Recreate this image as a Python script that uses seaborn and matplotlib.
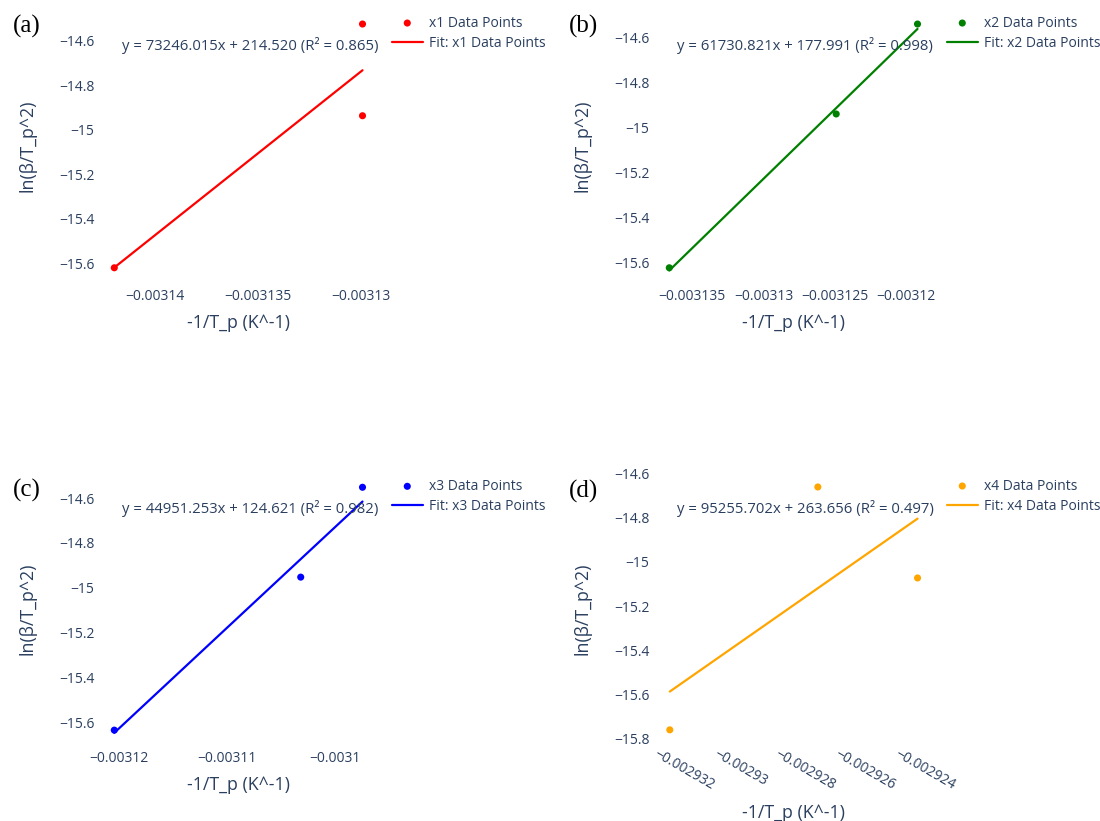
import numpy as np
import pandas as pd
import matplotlib
matplotlib.use("Agg")
import matplotlib.pyplot as plt
import seaborn as sns
from matplotlib.ticker import FixedLocator, FixedFormatter

# Kissinger plots: ln(beta/Tp^2) against -1/Tp for four series, each with its linear fit
series_names = ["x1", "x2", "x3", "x4"]
panel_tags = ["(a)", "(b)", "(c)", "(d)"]

x1_inv_tp = [-0.0031420, -0.0031299, -0.0031299]
x1_ln = [-15.620, -14.525, -14.937]
x2_inv_tp = [-0.0031366, -0.0031249, -0.0031192]
x2_ln = [-15.622, -14.938, -14.538]
x3_inv_tp = [-0.0031204, -0.0031032, -0.0030975]
x3_ln = [-15.633, -14.952, -14.552]
x4_inv_tp = [-0.0029315, -0.0029266, -0.0029233]
x4_ln = [-15.759, -14.662, -15.073]

fit_slope = [73246.015, 61730.821, 44951.253, 95255.702]
fit_intercept = [214.520, 177.991, 124.621, 263.656]
fit_r2 = [0.865, 0.998, 0.982, 0.497]

x_ticks = [
    [-0.00314, -0.003135, -0.00313],
    [-0.003135, -0.00313, -0.003125, -0.00312],
    [-0.00312, -0.00311, -0.0031],
    [-0.002932, -0.00293, -0.002928, -0.002926, -0.002924],
]
x_tick_labels = [
    ["\u22120.00314", "\u22120.003135", "\u22120.00313"],
    ["\u22120.003135", "\u22120.00313", "\u22120.003125", "\u22120.00312"],
    ["\u22120.00312", "\u22120.00311", "\u22120.0031"],
    ["\u22120.002932", "\u22120.00293", "\u22120.002928", "\u22120.002926", "\u22120.002924"],
]
y_ticks_short = [-14.6, -14.8, -15.0, -15.2, -15.4, -15.6]
y_labels_short = ["\u221214.6", "\u221214.8", "\u221215", "\u221215.2", "\u221215.4", "\u221215.6"]
y_ticks = [y_ticks_short] * 3 + [y_ticks_short + [-15.8]]
y_tick_labels = [y_labels_short] * 3 + [y_labels_short + ["\u221215.8"]]

x_title = "-1/T_p (K^-1)"
y_title = "ln(\u03b2/T_p^2)"

series_x = [x1_inv_tp, x2_inv_tp, x3_inv_tp, x4_inv_tp]
series_y = [x1_ln, x2_ln, x3_ln, x4_ln]
colors = ["#FF0000", "#008000", "#0000FF", "#FFA500"]

sns.set_theme(style="white")
plt.rcParams["font.family"] = ["Open Sans", "DejaVu Sans"]
text_color = "#2a3f5f"

W, H = 1100, 821
fig = plt.figure(figsize=(W / 100, H / 100), dpi=100)
fig.patch.set_facecolor("white")

# plot rectangles in pixels: left, top, width, height
rects = [
    (99.4, 9.4, 278, 273),
    (654.4, 9.4, 278, 273),
    (99.4, 472.7, 278, 272),
    (654.4, 472.4, 278, 272),
]
tag_pos = [(27, 26), (583, 26), (27, 490), (583, 491)]
pad_x, pad_y = 0.06, 0.06

for i in range(4):
    l, t, w, h = rects[i]
    ax = fig.add_axes([l / W, 1 - (t + h) / H, w / W, h / H])
    ax.set_facecolor("white")
    df = pd.DataFrame({"x": series_x[i], "y": series_y[i]})
    name = series_names[i]
    sns.scatterplot(data=df, x="x", y="y", color=colors[i], s=26, edgecolor="none",
                    ax=ax, label=f"{name} Data Points", zorder=3)
    xs = np.array([df["x"].min(), df["x"].max()])
    fit_df = pd.DataFrame({"x": xs, "y": fit_slope[i] * xs + fit_intercept[i]})
    sns.lineplot(data=fit_df, x="x", y="y", color=colors[i], linewidth=1.6,
                 ax=ax, label=f"Fit: {name} Data Points", zorder=2)

    xr = df["x"].max() - df["x"].min()
    yr = df["y"].max() - df["y"].min()
    x_lo = min(df["x"].min() - pad_x * xr, x_ticks[i][0] - 1e-8)
    x_hi = df["x"].max() + pad_x * xr
    ax.set_xlim(x_lo, x_hi)
    ax.set_ylim(df["y"].min() - pad_y * yr, df["y"].max() + pad_y * yr)

    ax.xaxis.set_major_locator(FixedLocator(x_ticks[i]))
    ax.xaxis.set_major_formatter(FixedFormatter(x_tick_labels[i]))
    ax.yaxis.set_major_locator(FixedLocator(y_ticks[i]))
    ax.yaxis.set_major_formatter(FixedFormatter(y_tick_labels[i]))
    ax.tick_params(axis="both", length=0, labelsize=10, labelcolor=text_color)
    ax.tick_params(axis="y", pad=3.6)
    if i == 3:
        ax.tick_params(axis="x", pad=6.5)
        for lab in ax.get_xticklabels():
            lab.set_rotation(-30)
            lab.set_ha("left")
            lab.set_va("center")
            lab.set_rotation_mode("anchor")
    else:
        ax.tick_params(axis="x", pad=4.4)
    for sp in ax.spines.values():
        sp.set_visible(False)
    ax.grid(False)

    ax.set_xlabel(x_title, fontsize=12.8, color=text_color)
    ax.set_ylabel(y_title, fontsize=12.8, color=text_color)
    ax.xaxis.label.set_va("center")
    ax.yaxis.label.set_va("center")
    ax.xaxis.set_label_coords(0.5, -(68.6 if i == 3 else 40.3) / h)
    ax.yaxis.set_label_coords((27.5 - 99.4) / w, 0.5)

    ax.text(0.542, 0.868,
            f"y = {fit_slope[i]:.3f}x + {fit_intercept[i]:.3f} (R\u00b2 = {fit_r2[i]:.3f})",
            transform=ax.transAxes, ha="center", va="center", fontsize=10.7, color=text_color)

    ax.legend(loc="upper left", bbox_to_anchor=((392 - 99.4) / w, 0.977), frameon=False,
              fontsize=10, labelcolor=text_color, handlelength=2.2, handletextpad=0.45,
              borderpad=0, borderaxespad=0, labelspacing=0.35)

    tx, ty = tag_pos[i]
    fig.text(tx / W, 1 - ty / H, panel_tags[i], ha="center", va="center",
             fontsize=18, family="Liberation Serif", color="black")

fig.savefig("out.png", dpi=100, facecolor="white")
